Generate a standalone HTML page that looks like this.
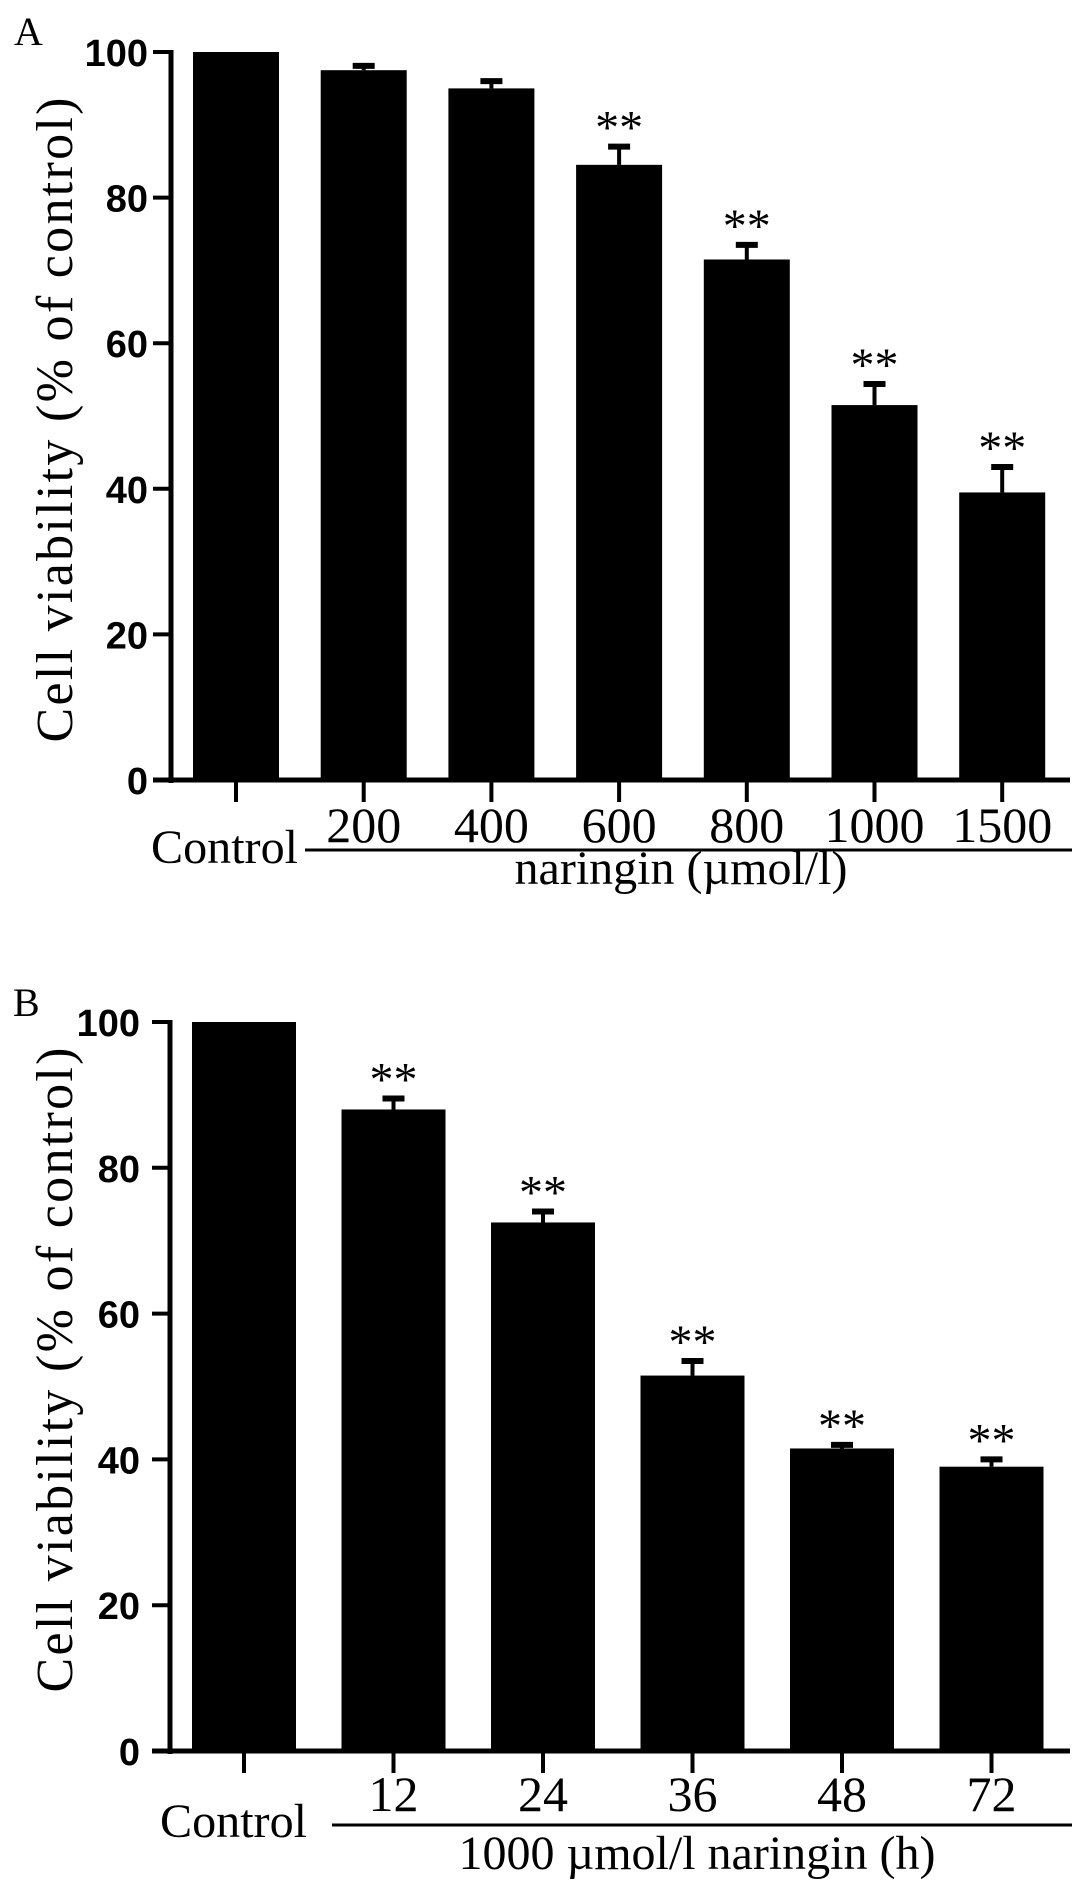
<!DOCTYPE html>
<html>
<head>
<meta charset="utf-8">
<style>
html,body{margin:0;padding:0;background:#fff;}
svg{display:block;}
.serif{font-family:"Liberation Serif",serif;}
.sans{font-family:"Liberation Sans",sans-serif;font-weight:bold;}
</style>
</head>
<body>
<svg id="fig" width="1087" height="1892" viewBox="0 0 1087 1892" xmlns="http://www.w3.org/2000/svg" xml:space="preserve">
  <text x="14" y="45" class="serif" font-size="40">A</text>
  <text x="13" y="1016" class="serif" font-size="40">B</text>
  <g id="panelA"></g>
  <g id="panelB"></g>
</svg>
<script>
// Panel A data
const catsA = ["Control","200","400","600","800","1000","1500"];
const valsA = [100, 97.5, 95, 84.5, 71.5, 51.5, 39.5];
const errA  = [0, 0.6, 1.0, 2.5, 2.0, 2.9, 3.5];
const sigA  = [false, false, false, true, true, true, true];
// Panel B data
const catsB = ["Control","12","24","36","48","72"];
const valsB = [100, 88, 72.5, 51.5, 41.5, 39];
const errB  = [0, 1.5, 1.5, 2.0, 0.5, 1.0];
const sigB  = [false, true, true, true, true, true];
const yTicks = [0, 20, 40, 60, 80, 100];

const NS = "http://www.w3.org/2000/svg";
function mk(parent, tag, attrs, text){
  const e = document.createElementNS(NS, tag);
  for (const k in attrs) e.setAttribute(k, attrs[k]);
  if (text !== undefined) e.textContent = text;
  parent.appendChild(e);
  return e;
}

function drawPanel(g, cfg, cats, vals, errs, sigs){
  const yScale = v => cfg.y0 + (cfg.y100 - cfg.y0) * v / 100;
  const xScale = i => cfg.x0 + cfg.pitch * i;
  const ax = mk(g, "line", {x1:cfg.axisX, y1:yScale(100)-2, x2:cfg.axisX, y2:cfg.y0+3, stroke:"#000","stroke-width":5});
  
  
  yTicks.forEach(t => {
    const tl = mk(g, "line", {x1:cfg.axisX-18, y1:yScale(t), x2:cfg.axisX, y2:yScale(t), stroke:"#000","stroke-width":4});
    
    
    const tx = mk(g, "text", {x:cfg.labelRight, y:yScale(t)+14, "text-anchor":"end", "font-size":38, class:"sans"}, String(t));
    
    
  });
  const xa = mk(g, "line", {x1:cfg.axisX-18, y1:cfg.y0, x2:1070, y2:cfg.y0, stroke:"#000","stroke-width":5});
  
  
  const yt = mk(g, "text", {x:0, y:0, transform:`translate(72 ${cfg.titleCY}) rotate(-90)`, "text-anchor":"middle", "font-size":52, class:"serif", textLength:645, lengthAdjust:"spacing"}, "Cell viability (% of control)");
  
  
  cats.forEach((c, i) => {
    const cx = xScale(i);
    const top = yScale(vals[i]);
    const b = mk(g, "rect", {x:cx-cfg.bw/2, y:top, width:cfg.bw, height:cfg.y0-top, fill:"#000"});
    
    
    const tk = mk(g, "line", {x1:cx, y1:cfg.y0, x2:cx, y2:cfg.y0+22, stroke:"#000","stroke-width":4});
    
    
    let capTop = top;
    if (errs[i] > 0){
      const et = yScale(vals[i] + errs[i]);
      capTop = et - 3;
      const el = mk(g, "line", {x1:cx, y1:top, x2:cx, y2:et, stroke:"#000","stroke-width":4});
      
      
      const ec = mk(g, "line", {x1:cx-11, y1:et, x2:cx+11, y2:et, stroke:"#000","stroke-width":6});
      
      
    }
    if (sigs[i]){
      const s = mk(g, "text", {x:cx, y:capTop, "text-anchor":"middle", "font-size":48, class:"serif"}, "**");
      
      
    }
    if (i > 0){
      const l = mk(g, "text", {x:cx, y:cfg.tickLabelY, "text-anchor":"middle", "font-size":50, class:"serif"}, c);
      
      
    }
  });
  const ctl = mk(g, "text", {x:cfg.ctlX, y:cfg.ctlY, "font-size":48, class:"serif", textLength:147, lengthAdjust:"spacingAndGlyphs"}, "Control");
  
  
  const gl = mk(g, "line", {x1:cfg.lineX1, y1:cfg.lineY, x2:1072, y2:cfg.lineY, stroke:"#000","stroke-width":3});
  
  
  const xt = mk(g, "text", {x:cfg.xtX, y:cfg.xtY, "text-anchor":"middle", "font-size":48, class:"serif"}, cfg.xTitle);
  
  
}

drawPanel(document.getElementById("panelA"),
  {axisX:171, y0:780, y100:52, x0:236, pitch:127.7, bw:86, labelRight:148, titleCY:420,
   tickLabelY:842, ctlX:151, ctlY:863, lineX1:305, lineY:850, xtX:681, xtY:884, xTitle:"naringin  (\u00b5mol/l)"},
  catsA, valsA, errA, sigA);
drawPanel(document.getElementById("panelB"),
  {axisX:170, y0:1751, y100:1022, x0:244, pitch:149.5, bw:104, labelRight:140, titleCY:1370,
   tickLabelY:1811, ctlX:160, ctlY:1837, lineX1:332, lineY:1825, xtX:697, xtY:1869, xTitle:"1000 \u00b5mol/l naringin (h)"},
  catsB, valsB, errB, sigB);
</script>
</body>
</html>
